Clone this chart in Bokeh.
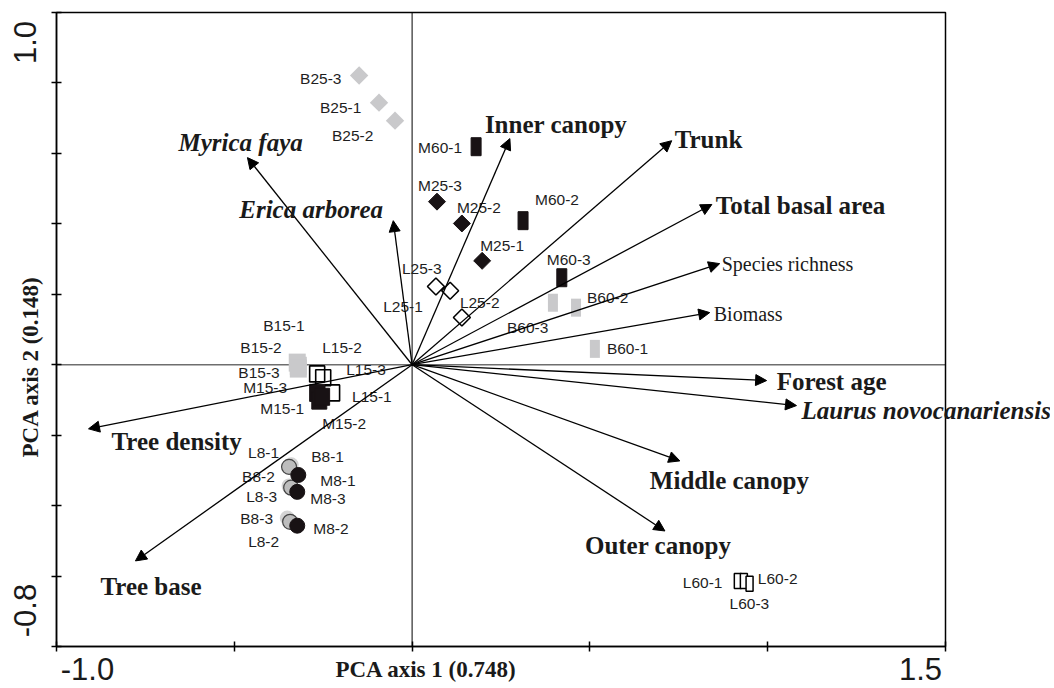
import math
from bokeh.plotting import figure
from bokeh.models import (Arrow, NormalHead, Label, Range1d, FixedTicker, CustomJSTickFormatter,
                          LinearAxis)
from bokeh.core.properties import value
from bokeh.embed import file_html
from bokeh.resources import INLINE

# ---------------- data ----------------
X_MIN, X_MAX = -1.0, 1.5
Y_MIN, Y_MAX = -0.8, 1.0
x_tick_values = [-1.0, -0.5, 0.0, 0.5, 1.0, 1.5]
y_tick_values = [-0.8, -0.6, -0.4, -0.2, 0.0, 0.2, 0.4, 0.6, 0.8, 1.0]
x_end_labels = ["-1.0", "1.5"]
y_end_labels = ["-0.8", "1.0"]
x_axis_title = "PCA axis 1 (0.748)"
y_axis_title = "PCA axis 2 (0.148)"

site_names = ["B25-3", "B25-1", "B25-2", "M25-3", "M25-2", "M25-1", "L25-3", "L25-1", "L25-2",
              "M60-1", "M60-2", "M60-3", "B60-3", "B60-2", "B60-1", "L60-1", "L60-2", "L60-3",
              "B15-1", "B15-2", "B15-3", "L15-2", "L15-3", "L15-1", "M15-3", "M15-1", "M15-2",
              "B8-1", "L8-1", "B8-2", "L8-3", "B8-3", "L8-2", "M8-1", "M8-3", "M8-2"]
site_x = [-0.149, -0.093, -0.048, 0.070, 0.140, 0.197, 0.067, 0.107, 0.140,
          0.180, 0.312, 0.421, 0.396, 0.461, 0.514, 0.916, 0.933, 0.949,
          -0.323, -0.320, -0.320, -0.267, -0.250, -0.225, -0.267, -0.261, -0.253,
          -0.340, -0.346, -0.346, -0.340, -0.351, -0.343, -0.320, -0.323, -0.323]
site_y = [0.821, 0.744, 0.693, 0.463, 0.401, 0.295, 0.222, 0.210, 0.134,
          0.619, 0.409, 0.247, 0.176, 0.162, 0.045, -0.614, -0.614, -0.622,
          0.006, -0.003, -0.011, -0.026, -0.037, -0.080, -0.080, -0.102, -0.091,
          -0.284, -0.290, -0.344, -0.349, -0.435, -0.446, -0.313, -0.361, -0.457]

var_names = ["Myrica faya", "Erica arborea", "Inner canopy", "Trunk", "Total basal area",
             "Species richness", "Biomass", "Forest age", "Laurus novocanariensis",
             "Middle canopy", "Outer canopy", "Tree density", "Tree base"]
var_x = [-0.463, -0.053, 0.275, 0.730, 0.843, 0.865, 0.837, 0.997, 1.081, 0.753, 0.711, -0.910, -0.778]
var_y = [0.588, 0.409, 0.642, 0.636, 0.455, 0.287, 0.148, -0.045, -0.116, -0.273, -0.472, -0.182, -0.557]

# ---------------- styles / layout ----------------
W, H = 1050, 688
FW, FH = 889, 634          # size of the boxed plotting area
LEFT, TOP = 56, 12         # position of the box on the canvas
PXX = FW / (X_MAX - X_MIN)
PXY = FH / (Y_MAX - Y_MIN)
X0 = X_MIN - LEFT / PXX
X1 = X_MAX + (W - LEFT - FW) / PXX
Y1 = Y_MAX + TOP / PXY
Y0 = Y_MIN - (H - TOP - FH) / PXY

site_label_offsets = {
    "B25-3": (-59, 3), "B25-1": (-59, 5), "B25-2": (-63, 15),
    "M25-3": (-19, -16), "M25-2": (-5, -16), "M25-1": (-2, -15),
    "L25-3": (-34, -18), "L25-1": (-67, 16), "L25-2": (-2, -15),
    "M60-1": (-58, 1), "M60-2": (12, -21), "M60-3": (-15, -18),
    "B60-3": (-46, 25), "B60-2": (11, -10), "B60-1": (12, 0),
    "L60-1": (-55, 2), "L60-2": (14, -2), "L60-3": (-20, 20),
    "B15-1": (-34, -37), "B15-2": (-58, -18), "B15-3": (-60, 4),
    "L15-2": (5, -26), "L15-3": (23, -8), "L15-1": (20, 4),
    "M15-3": (-74, -5), "M15-1": (-59, 8), "M15-2": (0, 27),
    "L8-1": (-41, -14), "B8-1": (20, -8), "B8-2": (-47, -9), "M8-1": (22, 6),
    "L8-3": (-45, 9), "M8-3": (13, 7), "B8-3": (-47, 1), "M8-2": (16, 3), "L8-2": (-42, 20),
}

var_label_offsets = [(-69, -15), (-154, -11), (-25, -14), (3, -1), (4, 1), (2, 0), (4, 1),
                     (10, 1), (5, 5), (-30, 20), (-80, 15), (23, 13), (-35, 26)]
var_label_styles = ["bold italic", "bold italic", "bold", "bold", "bold", "normal", "normal",
                    "bold", "bold italic", "bold", "bold", "bold", "bold"]
var_label_sizes = ["25px"] * 5 + ["20px", "20px"] + ["25px"] * 6

LIGHT = "#c9c9cb"
DARK = "#181214"
INK = "#1a1a1a"
SANS = "Liberation Sans"
SERIF = "Liberation Serif"

p = figure(width=W, height=H, x_range=Range1d(X0, X1), y_range=Range1d(Y0, Y1),
           output_backend="svg", toolbar_location=None, title=None,
           min_border_left=0, min_border_right=0, min_border_top=0, min_border_bottom=0)
p.grid.visible = False
p.outline_line_color = None
p.background_fill_color = "white"
p.border_fill_color = "white"

# --- main axes, fixed on the box edges ---
xa = p.xaxis[0]
xa.fixed_location = Y_MIN
xa.bounds = (X_MIN, X_MAX)
xa.ticker = FixedTicker(ticks=[X_MIN + 31 / PXX, X_MAX - 25 / PXX], minor_ticks=x_tick_values)
xa.formatter = CustomJSTickFormatter(args=dict(labels=x_end_labels), code="return labels[index]")
xa.major_label_standoff = 6

ya = p.yaxis[0]
ya.fixed_location = X_MIN
ya.bounds = (Y_MIN, Y_MAX)
ya.ticker = FixedTicker(ticks=[Y_MIN + 36 / PXY, Y_MAX - 30 / PXY], minor_ticks=y_tick_values)
ya.formatter = CustomJSTickFormatter(args=dict(labels=y_end_labels), code="return labels[index]")
ya.major_label_orientation = "parallel"
ya.major_label_standoff = 16

for ax in (xa, ya):
    ax.axis_line_color = "black"
    ax.axis_line_width = 1.5
    ax.major_tick_line_color = None
    ax.major_tick_in = 0
    ax.major_tick_out = 0
    ax.minor_tick_line_color = "black"
    ax.minor_tick_line_width = 1.5
    ax.minor_tick_in = 5
    ax.minor_tick_out = 5
    ax.major_label_text_font = SANS
    ax.major_label_text_font_size = "31px"
    ax.major_label_text_color = INK

# --- axis titles as fixed axes carrying a single label ---
tx = LinearAxis(fixed_location=Y_MIN, ticker=FixedTicker(ticks=[0.0 + 14 / PXX], minor_ticks=[]),
                formatter=CustomJSTickFormatter(args=dict(labels=[x_axis_title]), code="return labels[index]"),
                axis_line_color=None, major_tick_line_color=None, minor_tick_line_color=None,
                major_tick_in=0, major_tick_out=0, major_label_standoff=10,
                major_label_text_font=SERIF, major_label_text_font_size="23px",
                major_label_text_font_style="bold", major_label_text_color=INK)
p.add_layout(tx, "below")
ty = LinearAxis(fixed_location=X_MIN, ticker=FixedTicker(ticks=[0.0 - 2 / PXY], minor_ticks=[]),
                formatter=CustomJSTickFormatter(args=dict(labels=[y_axis_title]), code="return labels[index]"),
                axis_line_color=None, major_tick_line_color=None, minor_tick_line_color=None,
                major_tick_in=0, major_tick_out=0, major_label_standoff=13,
                major_label_orientation="parallel",
                major_label_text_font=SERIF, major_label_text_font_size="23px",
                major_label_text_font_style="bold", major_label_text_color=INK)
p.add_layout(ty, "left")

# --- box and zero lines ---
p.segment(x0=[0.0, X_MIN], y0=[Y_MIN, 0.0], x1=[0.0, X_MAX], y1=[Y_MAX, 0.0],
          line_color=["black", "#6e6e6e"], line_width=[1, 1.5])
p.quad(left=[X_MIN], right=[X_MAX], bottom=[Y_MIN], top=[Y_MAX],
       fill_color=None, line_color="black", line_width=1.5)


def sel(prefix):
    idx = [i for i, n in enumerate(site_names) if n.startswith(prefix)]
    return [site_x[i] for i in idx], [site_y[i] for i in idx]

for pre, fill, line, lw, size in (("B25", LIGHT, None, 0, 13), ("M25", DARK, DARK, 1, 12),
                                  ("L25", "white", "black", 1.6, 12)):
    xs, ys = sel(pre)
    p.scatter(xs, ys, marker="square", angle=math.pi / 4, size=size,
              fill_color=fill, line_color=line, line_width=lw)

for pre, fill, line, lw, w, h in (("B60", LIGHT, None, 0, 10, 18), ("M60", DARK, DARK, 1, 10, 18),
                                  ("L60", "white", "black", 1.5, 7, 15)):
    xs, ys = sel(pre)
    p.rect(xs, ys, width=w, height=h, width_units="screen", height_units="screen",
           fill_color=fill, line_color=line, line_width=lw)

xs, ys = sel("B15")
p.rect(xs, ys, width=17, height=18, width_units="screen", height_units="screen",
       fill_color=LIGHT, line_color=None)
xs, ys = sel("L15")
p.rect(xs, ys, width=15, height=16, width_units="screen", height_units="screen",
       fill_alpha=0, line_color="black", line_width=1.6)
xs, ys = sel("M15")
p.rect(xs, ys, width=15, height=17, width_units="screen", height_units="screen",
       fill_color=DARK, line_color=DARK)

for pre, fill, line, lw in (("B8", "#d4d4d4", None, 0), ("L8", "#bdbdbd", "#444444", 1.2),
                            ("M8", DARK, DARK, 1)):
    xs, ys = sel(pre)
    p.scatter(xs, ys, marker="circle", size=15, fill_color=fill, line_color=line, line_width=lw)

lx, ly = [], []
for n, x, y in zip(site_names, site_x, site_y):
    dx, dy = site_label_offsets[n]
    lx.append(x + dx / PXX)
    ly.append(y - dy / PXY)
p.text(lx, ly, text=site_names, text_font=value(SANS), text_font_size="15.5px",
       text_color="#1e1e1e", text_align="left", text_baseline="middle")

for i, (n, x, y) in enumerate(zip(var_names, var_x, var_y)):
    p.add_layout(Arrow(end=NormalHead(size=11, fill_color="black", line_color="black", line_width=1),
                       x_start=0, y_start=0, x_end=x, y_end=y,
                       line_color="black", line_width=1.3))
    dx, dy = var_label_offsets[i]
    p.add_layout(Label(x=x + dx / PXX, y=y - dy / PXY, text=n,
                       text_font=SERIF, text_font_size=var_label_sizes[i],
                       text_font_style=var_label_styles[i], text_color=INK,
                       text_align="left", text_baseline="middle"))

open("out.html", "w").write(file_html(p, INLINE))
